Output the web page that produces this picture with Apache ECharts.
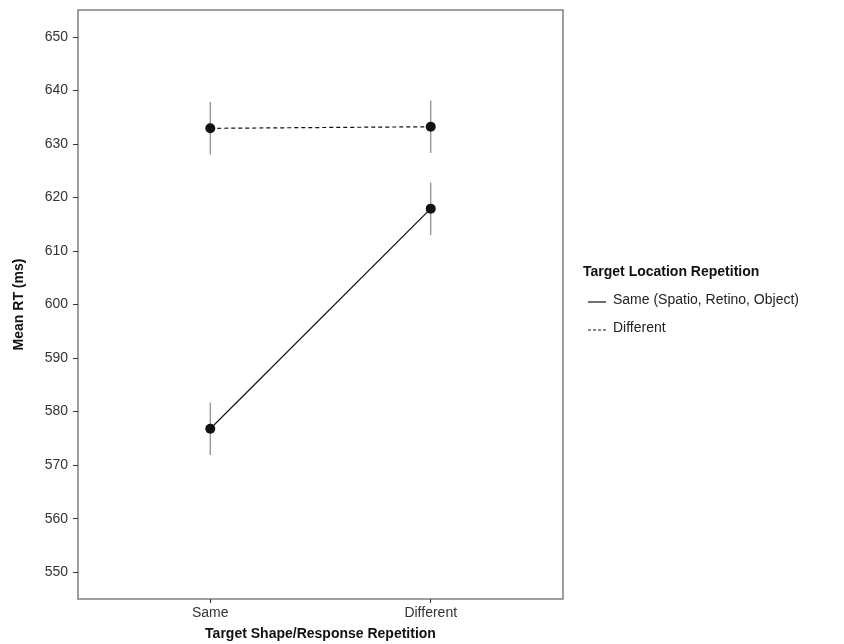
<!DOCTYPE html>
<html>
<head>
<meta charset="utf-8">
<script src="https://cdn.jsdelivr.net/npm/echarts@6/dist/echarts.min.js"></script>
<style>html,body{margin:0;padding:0;background:#fff}#c{width:844px;height:644px}</style>
</head>
<body>
<div id="c"></div>
<script>
var categories = ["Same", "Different"];
var seriesNames = ["Same (Spatio, Retino, Object)", "Different"];
var sameMeans = [576.8, 617.9];
var sameErr = [4.9, 4.9];
var diffMeans = [632.9, 633.2];
var diffErr = [4.9, 4.9];
var yTicks = [550, 560, 570, 580, 590, 600, 610, 620, 630, 640, 650];
var legendTitle = "Target Location Repetition";

var FONT = "Liberation Sans, Arial, sans-serif";
var chart = echarts.init(document.getElementById('c'));

function pts(means) { return means.map(function (v, i) { return [i + 1, v]; }); }
function errData(means, errs) { return means.map(function (v, i) { return [i + 1, v - errs[i], v + errs[i]]; }); }

function errRender(params, api) {
  var x = api.value(0);
  var p1 = api.coord([x, api.value(1)]);
  var p2 = api.coord([x, api.value(2)]);
  return {
    type: 'line',
    shape: { x1: p1[0], y1: p1[1], x2: p2[0], y2: p2[1] },
    style: { stroke: '#888', lineWidth: 1.2 }
  };
}

var lx = 583, ly = 274;
chart.setOption({
  animation: false,
  grid: { left: 78, top: 10, right: 281, bottom: 45, outerBoundsMode: 'none', containLabel: false,
    show: true, borderColor: '#808080', borderWidth: 1.5, backgroundColor: '#fff' },
  xAxis: {
    type: 'value', min: 0.4, max: 2.6,
    name: 'Target Shape/Response Repetition', nameLocation: 'middle', nameGap: 28,
    nameTextStyle: { fontFamily: FONT, fontSize: 14, fontWeight: 'bold', color: '#111' },
    axisLine: { show: false },
    splitLine: { show: false },
    axisTick: { show: true, length: 4, customValues: [1, 2], lineStyle: { color: '#333' } },
    axisLabel: { customValues: [1, 2], margin: 7, fontFamily: FONT, fontSize: 14, color: '#333',
      formatter: function (v) { return categories[Math.round(v) - 1] || ''; } }
  },
  yAxis: {
    type: 'value', min: 545, max: 655,
    name: 'Mean RT (ms)', nameLocation: 'middle', nameGap: 52, nameRotate: 90,
    nameTextStyle: { fontFamily: FONT, fontSize: 14, fontWeight: 'bold', color: '#111' },
    axisLine: { show: false },
    splitLine: { show: false },
    axisTick: { show: true, length: 5, customValues: yTicks, lineStyle: { color: '#333' } },
    axisLabel: { customValues: yTicks, margin: 10, fontFamily: FONT, fontSize: 14, color: '#333' }
  },
  series: [
    { type: 'custom', name: 'errSame', renderItem: errRender, data: errData(sameMeans, sameErr), z: 1 },
    { type: 'custom', name: 'errDiff', renderItem: errRender, data: errData(diffMeans, diffErr), z: 1 },
    { type: 'line', name: seriesNames[0], data: pts(sameMeans), symbol: 'circle', symbolSize: 10,
      itemStyle: { color: '#111' }, lineStyle: { color: '#111', width: 1.2, type: 'solid' }, z: 3 },
    { type: 'line', name: seriesNames[1], data: pts(diffMeans), symbol: 'circle', symbolSize: 10,
      itemStyle: { color: '#111' }, lineStyle: { color: '#111', width: 1.2, type: [4, 3] }, z: 3 }
  ],
  graphic: [
    { type: 'text', left: lx, top: ly - 9, style: { text: legendTitle, font: 'bold 14px ' + FONT, fill: '#111' } },
    { type: 'line', shape: { x1: lx + 5, y1: ly + 28, x2: lx + 23, y2: ly + 28 }, style: { stroke: '#111', lineWidth: 1.2 } },
    { type: 'text', left: lx + 30, top: ly + 19, style: { text: seriesNames[0], font: '14px ' + FONT, fill: '#222' } },
    { type: 'line', shape: { x1: lx + 5, y1: ly + 56, x2: lx + 23, y2: ly + 56 }, style: { stroke: '#111', lineWidth: 1.2, lineDash: [3, 2] } },
    { type: 'text', left: lx + 30, top: ly + 47, style: { text: seriesNames[1], font: '14px ' + FONT, fill: '#222' } }
  ]
});
</script>
</body>
</html>
